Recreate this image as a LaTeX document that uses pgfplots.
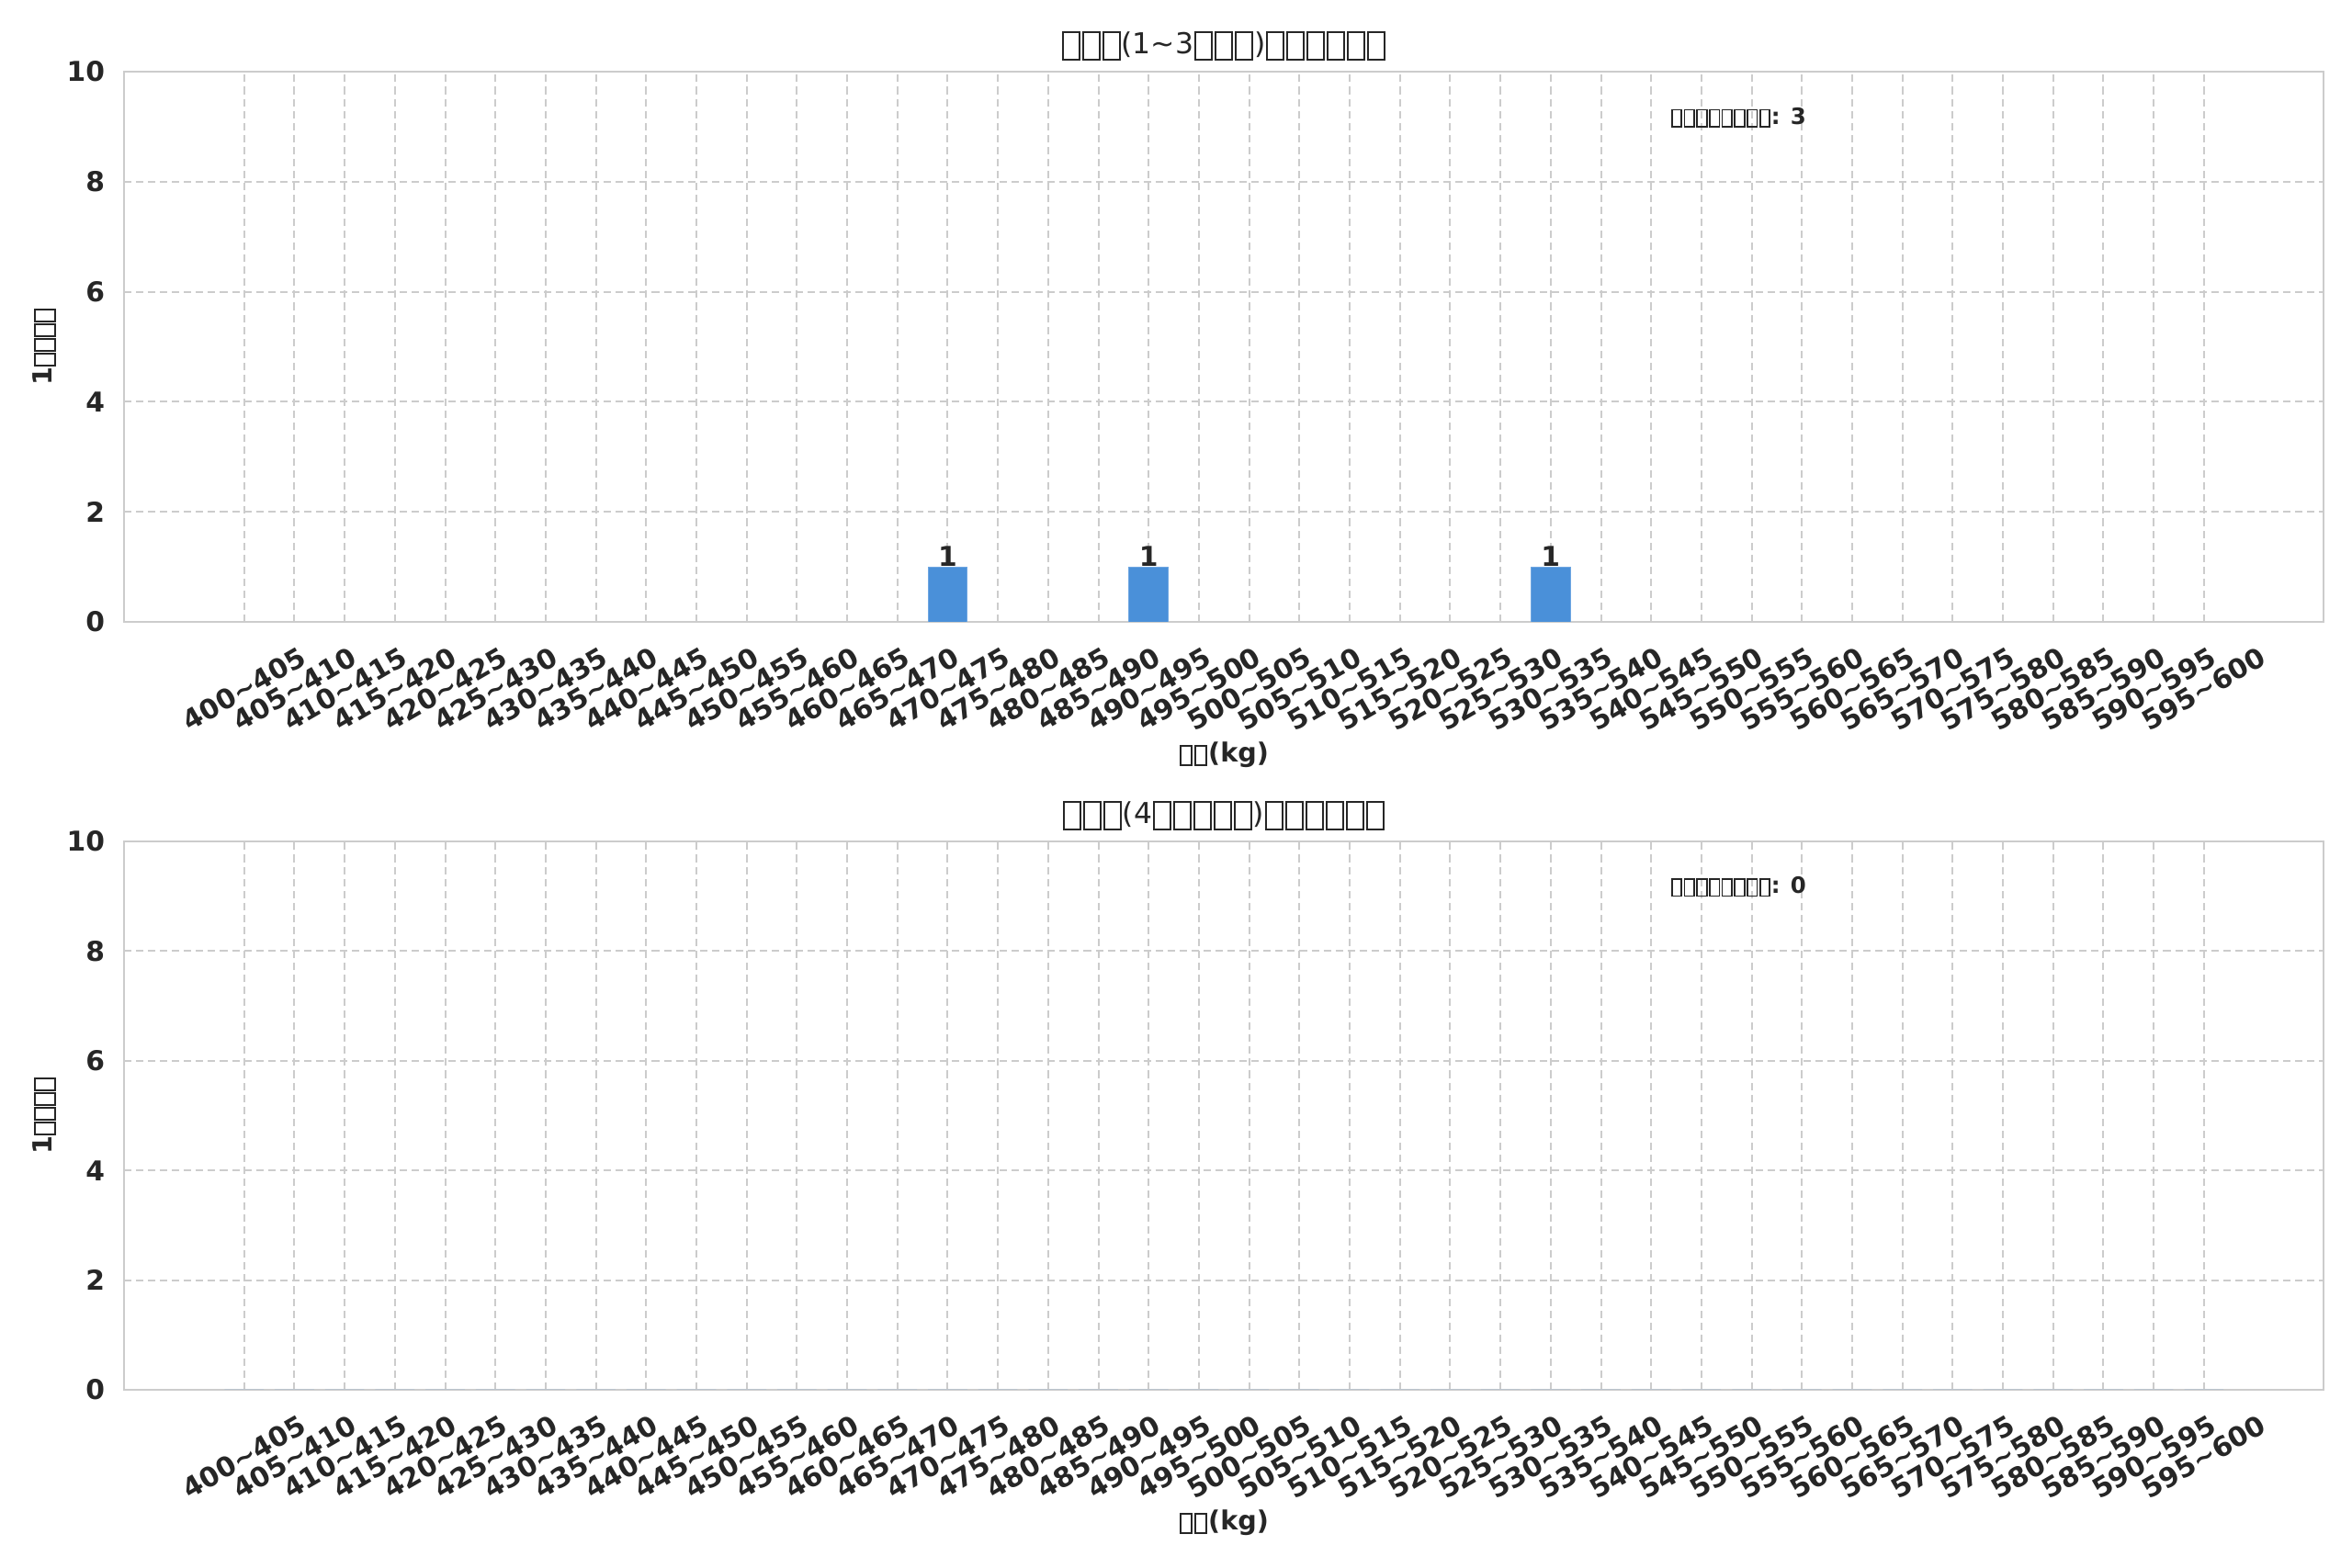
\documentclass[border=0pt]{standalone}
\usepackage{pgfplots}
\pgfplotsset{compat=1.18}
\usepackage{fontspec}
\setmainfont{DejaVu Sans}
\definecolor{txt}{HTML}{262626}
\definecolor{gridc}{HTML}{CCCCCC}
\definecolor{spine}{HTML}{CCCCCC}
\definecolor{barc}{HTML}{4A90D9}
% missing-glyph boxes, as in the reference (regular and bold)
\newcommand\tfr{\kern0.035em\raisebox{-0.17em}{\fboxsep0pt\fboxrule0.06em\fbox{\rule{0pt}{0.88em}\rule{0.51em}{0pt}}}\kern0.035em}
\newcommand\tfb{\kern0.03em\raisebox{-0.08em}{\fboxsep0pt\fboxrule0.07em\fbox{\rule{0pt}{0.68em}\rule{0.36em}{0pt}}}\kern0.03em}
\newcommand\tl{\textasciitilde}
\pgfplotsset{
  mystyle/.style={
    scale only axis,
    width=861.84pt,
    anchor=south west,
    xmin=-2.39, xmax=41.38,
    ymin=0, ymax=10,
    ytick={0,2,4,6,8,10},
    xtick={0,...,39},
    xticklabels={400\tl405,405\tl410,410\tl415,415\tl420,420\tl425,425\tl430,430\tl435,435\tl440,440\tl445,445\tl450,450\tl455,455\tl460,460\tl465,465\tl470,470\tl475,475\tl480,480\tl485,485\tl490,490\tl495,495\tl500,500\tl505,505\tl510,510\tl515,515\tl520,520\tl525,525\tl530,530\tl535,535\tl540,540\tl545,545\tl550,550\tl555,555\tl560,560\tl565,565\tl570,570\tl575,575\tl580,580\tl585,585\tl590,590\tl595,595\tl600},
    major tick length=0pt,
    axis line style={draw=spine, line width=0.9pt},
    grid=major,
    major grid style={draw=gridc, line width=0.72pt, dash pattern=on 2.9pt off 1.8pt},
    /pgf/number format/assume math mode=true,
    tick label style={font=\fontsize{10.7}{12}\bfseries, text=txt},
    yticklabel style={xshift=-4pt},
    xticklabel style={anchor=center, yshift=-26.3pt, rotate=30},
    xlabel={\tfb\tfb(kg)},
    ylabel={1\tfb\tfb\tfb\tfb},
    label style={font=\fontsize{10.3}{12}\bfseries, text=txt},
    xlabel style={at={(axis description cs:0.5,0)}, anchor=center, yshift=-52.2pt},
    ylabel style={at={(axis description cs:0,0.5)}, anchor=center, yshift=31.3pt},
    title style={font=\fontsize{11.3}{13}\selectfont, text=txt, at={(axis description cs:0.5,1)}, anchor=center, yshift=4.1pt},
    ybar, bar width=0.78,
  }
}
\begin{document}
\begin{tikzpicture}
\path[use as bounding box] (0,0) rectangle (921.6pt,614.52pt);
\begin{axis}[mystyle, at={(48.6pt,370.8pt)}, height=215.6pt,
  title={\tfr\tfr\tfr(1\tl3\tfr\tfr\tfr)\tfr\tfr\tfr\tfr\tfr\tfr},
  nodes near coords, nodes near coords style={font=\fontsize{10.7}{12}\bfseries, text=txt, inner sep=0pt}]
\addplot[fill=barc, draw=barc!80!white, line width=0.3pt] coordinates {(14,1) (18,1) (26,1)};
\node[anchor=west, font=\fontsize{8.8}{10}\bfseries, text=txt] at (rel axis cs:0.699,0.917) {\tfb\tfb\tfb\tfb\tfb\tfb\tfb\tfb: 3};
\end{axis}
\begin{axis}[mystyle, at={(48.6pt,69.84pt)}, height=214.9pt,
  title={\tfr\tfr\tfr(4\tfr\tfr\tfr\tfr\tfr)\tfr\tfr\tfr\tfr\tfr\tfr}]
\addplot[fill=barc, draw=none] coordinates {(0,0) (1,0) (2,0) (3,0) (4,0) (5,0) (6,0) (7,0) (8,0) (9,0) (10,0) (11,0) (12,0) (13,0) (14,0) (15,0) (16,0) (17,0) (18,0) (19,0) (20,0) (21,0) (22,0) (23,0) (24,0) (25,0) (26,0) (27,0) (28,0) (29,0) (30,0) (31,0) (32,0) (33,0) (34,0) (35,0) (36,0) (37,0) (38,0) (39,0)};
\node[anchor=west, font=\fontsize{8.8}{10}\bfseries, text=txt] at (rel axis cs:0.699,0.917) {\tfb\tfb\tfb\tfb\tfb\tfb\tfb\tfb: 0};
\end{axis}
\end{tikzpicture}
\end{document}
